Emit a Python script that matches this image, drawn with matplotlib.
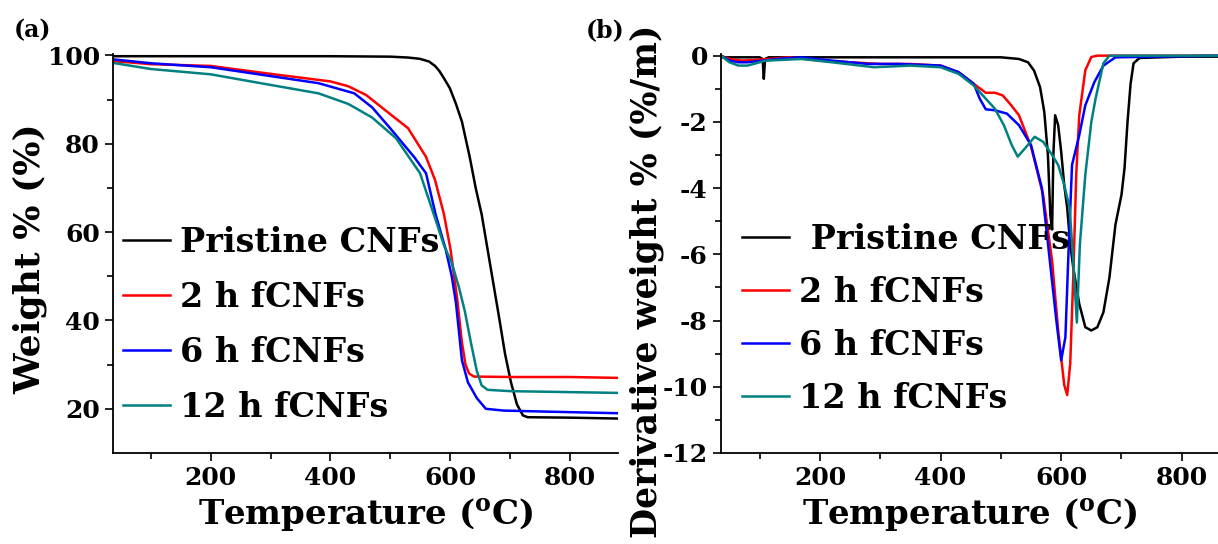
import matplotlib
matplotlib.use('Agg')
import matplotlib.pyplot as plt

# ---- data ----
labels = ['Pristine CNFs', '2 h fCNFs', '6 h fCNFs', '12 h fCNFs']
colors = ['black', '#ff0000', '#0000ff', '#008080']

# (a) TGA weight %
tga_t_pristine = [36, 100, 200, 300, 400, 500, 530, 550, 565, 575, 582, 590, 600, 610, 620, 633, 643,
                  653, 663, 673, 683, 692, 702, 712, 722, 730, 800, 880]
tga_w_pristine = [99.8, 99.8, 99.8, 99.8, 99.8, 99.7, 99.5, 99.2, 98.6, 97.6, 96.5, 94.8, 92.5, 89, 85, 77, 70,
                  64, 56, 48, 40, 32.5, 26, 21, 18.5, 18.1, 18.0, 17.8]
tga_t_2h = [36, 100, 200, 300, 400, 430, 460, 500, 530, 560, 575, 590, 601, 612, 620, 626, 632, 640,
            700, 800, 880]
tga_w_2h = [98.7, 98.0, 97.6, 95.8, 94.1, 93.0, 91.0, 86.7, 83.5, 77.0, 71.8, 64.0, 56.0, 45.0, 35.0, 30.0,
            28.0, 27.3, 27.2, 27.2, 27.0]
tga_t_6h = [36, 100, 200, 300, 380, 440, 470, 500, 540, 560, 576, 593, 603, 610, 620, 630, 645, 660,
            690, 750, 880]
tga_w_6h = [99.1, 98.2, 97.3, 95.3, 93.7, 91.4, 88.2, 83.5, 77.0, 73.3, 64.0, 56.0, 50.0, 44.0, 31.0, 26.0,
            22.4, 20.0, 19.6, 19.4, 19.0]
tga_t_12h = [36, 100, 150, 200, 300, 380, 430, 470, 510, 550, 573, 590, 603, 615, 625, 635, 645, 653,
             663, 700, 880]
tga_w_12h = [98.3, 96.9, 96.3, 95.7, 93.3, 91.4, 89.0, 85.9, 81.2, 73.3, 64.0, 57.0, 53.0, 47.5, 42.0,
             35.0, 28.5, 25.3, 24.3, 24.0, 23.6]

# (b) DTG derivative weight %
dtg_t_pristine = [36, 100, 105, 107, 109, 115, 200, 300, 400, 500, 530, 545, 555, 565, 572, 578, 582, 585,
                  587, 590, 595, 600, 605, 610, 615, 620, 630, 640, 650, 660, 670, 680, 690, 700, 705,
                  710, 715, 720, 730, 800, 860]
dtg_v_pristine = [-0.05, -0.05, -0.1, -0.7, -0.1, -0.05, -0.05, -0.05, -0.05, -0.05, -0.1, -0.2, -0.45,
                  -0.95, -1.7, -3.0, -4.8, -5.25, -3.0, -1.8, -2.1, -2.9, -3.9, -4.6, -5.7, -6.4, -7.5,
                  -8.2, -8.3, -8.2, -7.75, -6.7, -5.1, -4.2, -3.4, -2.0, -0.86, -0.23, -0.07, -0.03, -0.03]
dtg_t_2h = [36, 50, 70, 100, 150, 200, 250, 300, 350, 400, 430, 455, 475, 490, 503, 515, 530, 550, 570,
            585, 595, 605, 610, 615, 620, 625, 630, 640, 650, 660, 860]
dtg_v_2h = [0, -0.1, -0.15, -0.12, -0.05, -0.15, -0.2, -0.25, -0.25, -0.3, -0.5, -0.85, -1.12, -1.12, -1.2,
            -1.45, -1.8, -2.74, -4.2, -6.2, -8.3, -9.94, -10.25, -9.3, -6.7, -3.57, -1.8, -0.44, -0.04, 0, 0]
dtg_t_6h = [36, 50, 65, 80, 130, 170, 220, 280, 330, 400, 430, 455, 465, 475, 490, 510, 530, 550, 568,
            580, 592, 600, 607, 612, 618, 630, 640, 655, 670, 690, 860]
dtg_v_6h = [0, -0.15, -0.2, -0.2, -0.1, -0.05, -0.15, -0.25, -0.25, -0.3, -0.5, -0.85, -1.3, -1.62, -1.65,
            -1.75, -2.1, -2.7, -4.0, -6.0, -8.0, -9.2, -8.5, -6.0, -3.3, -2.4, -1.5, -0.8, -0.3, -0.05, 0]
dtg_t_12h = [36, 50, 65, 80, 110, 170, 220, 290, 350, 400, 430, 455, 470, 490, 505, 518, 528, 540, 556,
             570, 585, 595, 605, 614, 620, 626, 631, 640, 650, 657, 670, 680, 860]
dtg_v_12h = [0, -0.2, -0.3, -0.3, -0.15, -0.1, -0.2, -0.35, -0.3, -0.35, -0.55, -0.9, -1.2, -1.6, -2.1,
             -2.7, -3.05, -2.8, -2.45, -2.6, -3.0, -3.3, -3.9, -4.6, -6.2, -8.06, -5.7, -3.6, -2.0, -1.3,
             -0.23, 0, 0]

plt.rcParams['font.family'] = 'DejaVu Serif'
plt.rcParams['font.weight'] = 'bold'
plt.rcParams['mathtext.fontset'] = 'dejavuserif'
plt.rcParams['mathtext.default'] = 'bf'

fig = plt.figure(figsize=(12.18, 5.44), dpi=100)
ax1 = fig.add_axes([113 / 1218, 91 / 544, 505 / 1218, 399 / 544])
ax2 = fig.add_axes([721 / 1218, 91 / 544, 497 / 1218, 399 / 544])

tga = [(tga_t_pristine, tga_w_pristine), (tga_t_2h, tga_w_2h),
       (tga_t_6h, tga_w_6h), (tga_t_12h, tga_w_12h)]
dtg = [(dtg_t_pristine, dtg_v_pristine), (dtg_t_2h, dtg_v_2h),
       (dtg_t_6h, dtg_v_6h), (dtg_t_12h, dtg_v_12h)]

for (t, w), lab, c in zip(tga, labels, colors):
    ax1.plot(t, w, color=c, lw=1.8, label=lab)
for (t, v), lab, c in zip(dtg, labels, colors):
    ax2.plot(t, v, color=c, lw=1.8, label=(' ' + lab if lab.startswith('Pristine') else lab))

ax1.set_xlim(36.5, 881)
ax1.set_ylim(10, 100.3)
ax1.set_xticks([200, 400, 600, 800])
ax1.set_xticks([100, 300, 500, 700], minor=True)
ax1.set_yticks([20, 40, 60, 80, 100])
ax1.set_yticks([30, 50, 70, 90], minor=True)
ax1.set_ylabel('Weight % (%)', fontsize=26, fontweight='bold')
ax1.yaxis.set_label_coords(-0.13, 0.486)

ax2.set_xlim(36, 860)
ax2.set_ylim(-12, 0.05)
ax2.set_xticks([200, 400, 600, 800])
ax2.set_xticks([100, 300, 500, 700], minor=True)
ax2.set_yticks([-12, -10, -8, -6, -4, -2, 0])
ax2.set_yticks([-11, -9, -7, -5, -3, -1], minor=True)
ax2.set_yticklabels(['-12', '-10', '-8', '-6', '-4', '-2', '0'])
ax2.set_ylabel('Derivative weight % (%/m)', fontsize=25, fontweight='bold')
ax2.yaxis.set_label_coords(-0.115, 0.43)

for ax in (ax1, ax2):
    ax.spines['top'].set_visible(False)
    ax.spines['right'].set_visible(False)
    ax.spines['left'].set_linewidth(1.3)
    ax.spines['bottom'].set_linewidth(1.3)
    ax.tick_params(which='both', direction='out', width=1.2, labelsize=18)
    ax.tick_params(which='major', length=6)
    ax.tick_params(which='minor', length=4)
    for lbl in ax.get_xticklabels() + ax.get_yticklabels():
        lbl.set_fontweight('bold')
    ax.set_xlabel('Temperature ($^{o}$C)', fontsize=24.5, fontweight='bold', labelpad=4)

leg_kw = dict(frameon=False, loc='upper left', borderaxespad=0, borderpad=0,
              handlelength=1.4, handletextpad=0.3,
              prop={'size': 24, 'weight': 'bold'})
ax1.legend(bbox_to_anchor=(0.02, 0.57), labelspacing=0.66, **leg_kw)
ax2.legend(bbox_to_anchor=(0.042, 0.577), labelspacing=0.6, **leg_kw)

fig.text(14 / 1218, 1 - 30 / 544, '(a)', fontsize=17, fontweight='bold', va='center')
fig.text(586 / 1218, 1 - 30 / 544, '(b)', fontsize=17, fontweight='bold', va='center')

fig.savefig('out.png', dpi=100)
